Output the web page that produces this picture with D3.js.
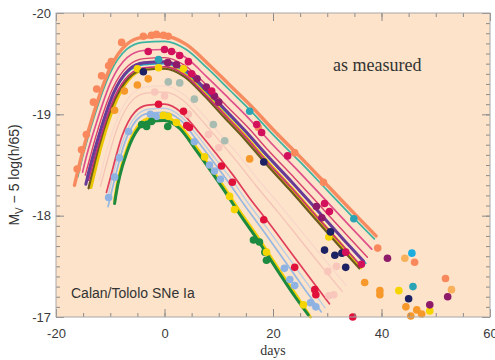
<!DOCTYPE html>
<html><head><meta charset="utf-8">
<script src="https://cdn.jsdelivr.net/npm/d3@7"></script>
<style>body{margin:0;background:#fff}svg{display:block}</style>
</head><body><svg id="c" width="495" height="360"></svg>
<script>
// ---------- data ----------
const xTickValues = [-20, 0, 20, 40, 60];
const yTickValues = [-20, -19, -18, -17];

// fitted light curves: [day, M_V]
const lcOrange  = [[-16.6,-18.30],[-15,-18.65],[-13,-19.02],[-10,-19.46],[-7,-19.69],[-4,-19.76],[0,-19.77],[4,-19.69],[8,-19.50],[12,-19.29],[16,-19.08],[20,-18.85],[25,-18.58],[30,-18.30],[35,-18.02],[39,-17.80]];
const lcTeal    = [[-16,-18.38],[-15,-18.60],[-13,-18.97],[-10,-19.41],[-7,-19.64],[-4,-19.71],[0,-19.72],[4,-19.64],[8,-19.45],[12,-19.24],[16,-19.03],[20,-18.80],[25,-18.53],[30,-18.25],[35,-17.97],[38.7,-17.77]];
const lcPink    = [[-15.1,-18.43],[-14.7,-18.52],[-12.7,-18.89],[-9.8,-19.33],[-6.9,-19.56],[-3.9,-19.63],[0,-19.64],[3.9,-19.56],[7.8,-19.37],[11.8,-19.16],[15.7,-18.95],[19.6,-18.72],[24.5,-18.45],[29.4,-18.17],[34.3,-17.89],[38.2,-17.67]];
const lcRose    = [[-14.6,-18.40],[-14.4,-18.44],[-12.5,-18.81],[-9.6,-19.25],[-6.7,-19.48],[-3.8,-19.55],[0,-19.56],[3.8,-19.48],[7.7,-19.29],[11.5,-19.08],[15.4,-18.87],[19.2,-18.64],[24,-18.37],[28.8,-18.09],[33.6,-17.81],[37.4,-17.59]];
const lcPurple  = [[-14.5,-18.31],[-14.1,-18.40],[-12.2,-18.77],[-9.4,-19.21],[-6.6,-19.44],[-3.8,-19.51],[0,-19.52],[3.8,-19.44],[7.5,-19.25],[11.3,-19.04],[15,-18.83],[18.8,-18.60],[23.5,-18.33],[28.2,-18.05],[32.9,-17.77],[36.7,-17.55]];
const lcCyan    = [[-14.3,-18.38],[-12.4,-18.75],[-9.5,-19.19],[-6.7,-19.42],[-3.8,-19.49],[0,-19.50],[3.8,-19.42],[7.6,-19.23],[11.4,-19.02],[15.2,-18.81],[19,-18.58],[23.8,-18.31],[28.5,-18.03],[33.3,-17.75],[37.1,-17.53]];
const lcMagenta = [[-14,-18.35],[-12.1,-18.72],[-9.3,-19.16],[-6.5,-19.39],[-3.7,-19.46],[0,-19.47],[3.7,-19.39],[7.4,-19.20],[11.2,-18.99],[14.9,-18.78],[18.6,-18.55],[23.3,-18.28],[27.9,-18.00],[32.6,-17.72],[36.3,-17.50]];
const lcGold    = [[-13.6,-18.28],[-11.6,-18.71],[-8.8,-19.15],[-6,-19.38],[-3.3,-19.45],[0.4,-19.46],[4.1,-19.38],[7.8,-19.19],[11.4,-18.98],[15.1,-18.77],[18.8,-18.54],[23.4,-18.27],[28,-17.99],[32.6,-17.71],[36.2,-17.49]];
const lcOlive   = [[-14,-18.27],[-12,-18.70],[-9.2,-19.14],[-6.4,-19.37],[-3.7,-19.44],[0,-19.45],[3.7,-19.37],[7.4,-19.18],[11,-18.97],[14.7,-18.76],[18.4,-18.53],[23,-18.26],[27.6,-17.98],[32.2,-17.70],[35.9,-17.48]];
const lcBlush   = [[-11.8,-18.29],[-10.9,-18.47],[-8.4,-18.91],[-5.9,-19.14],[-3.4,-19.21],[0,-19.22],[3.4,-19.14],[6.7,-18.95],[10.1,-18.74],[13.4,-18.53],[16.8,-18.30],[21,-18.03],[25.2,-17.75],[29.4,-17.47],[32.8,-17.25]];
const lcBlush2  = [[-12,-18.35],[-11.2,-18.53],[-8.6,-18.97],[-6,-19.20],[-3.4,-19.27],[0,-19.28],[3.4,-19.20],[6.9,-19.01],[10.3,-18.80],[13.8,-18.59],[17.2,-18.36],[21.5,-18.09],[25.8,-17.81],[30.1,-17.53],[33.5,-17.31]];
const lcRed     = [[-10.7,-18.23],[-10.1,-18.35],[-7.8,-18.79],[-5.5,-19.02],[-3.1,-19.09],[0,-19.10],[3.1,-19.02],[6.2,-18.83],[9.4,-18.62],[12.5,-18.41],[15.6,-18.18],[19.5,-17.91],[23.4,-17.63],[27.3,-17.35],[30.4,-17.13]];
const lcSky     = [[-10.4,-18.09],[-9.6,-18.27],[-7.4,-18.71],[-5.2,-18.94],[-3.0,-19.01],[0,-19.02],[3.0,-18.94],[5.9,-18.75],[8.9,-18.54],[11.8,-18.33],[14.8,-18.10],[18.5,-17.83],[22.2,-17.55],[25.9,-17.27],[28.9,-17.05]];
const lcPaleBlue= [[-10.3,-18.22],[-9.9,-18.31],[-7.6,-18.75],[-5.3,-18.98],[-3.0,-19.05],[0,-19.06],[3.0,-18.98],[6.1,-18.79],[9.1,-18.58],[12.2,-18.37],[15.2,-18.14],[19,-17.87],[22.8,-17.59],[26.6,-17.31],[29.6,-17.09]];
const lcYellow  = [[-9.2,-18.15],[-9.0,-18.22],[-6.9,-18.66],[-4.8,-18.89],[-2.8,-18.96],[0,-18.97],[2.8,-18.89],[5.5,-18.70],[8.3,-18.49],[11.0,-18.28],[13.8,-18.05],[17.3,-17.78],[20.7,-17.50],[24.2,-17.22],[26.9,-17.00]];
const lcGreen   = [[-9.2,-18.12],[-9.0,-18.19],[-6.9,-18.63],[-4.8,-18.86],[-2.8,-18.93],[0,-18.94],[2.8,-18.86],[5.5,-18.67],[8.3,-18.46],[11.0,-18.25],[13.8,-18.02],[17.3,-17.75],[20.7,-17.47],[24.2,-17.19],[26.5,-17.02]];

// measured points: [day, M_V]
const ptSalmon = [[-16.1,-18.46],[-15.3,-18.65],[-14.4,-18.80],[-13.1,-19.12],[-12.5,-19.25],[-11.6,-19.38],[-10.3,-19.48],[-9.8,-19.52],[-7.9,-19.71],[-3.9,-19.77],[-2.4,-19.78],[-1.5,-19.79],[-0.2,-19.78],[0.7,-19.77],[17.3,-18.87],[24.0,-18.62],[29.3,-18.33],[39.3,-17.68],[46.1,-17.54],[51.8,-17.38]];
const ptCrimson = [[-3.0,-19.62],[0,-19.64],[1.3,-19.62],[2.8,-19.58],[4.4,-19.52],[5.0,-19.40],[8.7,-19.23],[17.0,-18.90],[17.9,-18.82],[22.7,-18.59],[29.5,-18.12],[30.4,-18.04],[33.4,-17.64],[36.3,-17.52]];
const ptPlum = [[0.6,-19.51],[2.2,-19.49],[6.0,-19.35],[7.7,-19.27],[9.2,-19.18],[10.0,-19.12],[28.0,-18.09],[29.0,-17.98],[41.1,-17.58],[48.9,-17.12],[52.2,-17.20]];
const ptTeal = [[-1.1,-19.54],[15.7,-19.03],[34.9,-17.97],[45.8,-17.30]];
const ptCyan = [[45.6,-17.63]];
const ptYellow = [[-5.0,-19.45],[-1.1,-19.46],[3.5,-19.45],[7.4,-18.58],[30.3,-17.79],[-0.2,-18.99],[0.7,-18.98],[2.2,-18.92],[12.0,-18.19],[12.9,-18.06],[18.8,-17.64],[25.6,-17.12],[43.2,-17.26],[48.9,-17.06]];
const ptNavy = [[-3.9,-19.42],[18.3,-18.53],[30.6,-17.84],[29.5,-17.66],[31.4,-17.61],[32.7,-17.63],[33.4,-17.49],[45.0,-17.18]];
const ptOrange = [[-9.2,-19.04],[-7.4,-19.23],[-5.0,-19.29],[-3.0,-19.35],[15.7,-18.56],[36.9,-17.34],[39.7,-17.26],[39.7,-17.22],[44.5,-17.10],[45.4,-17.01],[46.5,-17.07],[47.4,-17.03]];
const ptApricot = [[44.3,-17.58],[52.9,-17.27]];
const ptSage = [[0.7,-19.32],[2.8,-19.31],[5.5,-19.15],[9.0,-18.90],[11.1,-18.74]];
const ptBlush = [[-1.8,-19.22],[0,-19.18],[4.4,-19.0],[8.1,-18.80],[10.0,-18.67],[30.1,-17.45],[31.7,-17.50],[30.3,-17.21],[31.2,-17.22]];
const ptRed = [[-1.1,-19.10],[3.5,-19.03],[4.1,-18.89],[4.6,-18.87],[10.5,-18.49],[12.5,-18.33],[18.3,-17.96],[24.0,-17.49],[27.7,-17.27],[27.9,-17.22],[34.7,-17.0]];
const ptSky = [[-10.3,-18.18],[-9.2,-18.38],[-8.3,-18.57],[-6.6,-18.83],[-2.6,-19.0],[-1.5,-18.98],[5.5,-18.73],[8.3,-18.50],[9.2,-18.44],[10.3,-18.36],[22.1,-17.48],[23.1,-17.37],[24.0,-17.31],[26.9,-17.14],[27.9,-17.10]];
const ptGreen = [[-4.2,-18.90],[-3.3,-18.88],[-2.4,-18.93],[0.6,-18.88],[16.4,-17.76],[17.5,-17.74],[18.5,-17.64],[18.8,-17.56]];

// ---------- styles ----------
const curves = [
  {d: lcBlush2,  c: "#f9d6cc", w: 1.2},
  {d: lcBlush,   c: "#f6c3b8", w: 1.3},
  {d: lcPaleBlue,c: "#bccde6", w: 1.4},
  {d: lcSky,     c: "#97b8e2", w: 1.7},
  {d: lcRed,     c: "#e03e5c", w: 1.7},
  {d: lcYellow,  c: "#f2d000", w: 3},
  {d: lcGreen,   c: "#1d8a3e", w: 3},
  {d: lcGold,    c: "#e9c500", w: 3.6},
  {d: lcOlive,   c: "#6c5a1e", w: 2.2},
  {d: lcMagenta, c: "#c8307e", w: 1.6},
  {d: lcCyan,    c: "#2c9fb8", w: 1.7},
  {d: lcPurple,  c: "#6a3b96", w: 3},
  {d: lcRose,    c: "#d8406e", w: 1.4},
  {d: lcPink,    c: "#e0508a", w: 1.7},
  {d: lcTeal,    c: "#3db3a2", w: 1.7},
  {d: lcOrange,  c: "#f78b5f", w: 3.4}
];
const points = [
  {d: ptBlush, c: "#f9c6bc"}, {d: ptSage, c: "#a9bcb2"}, {d: ptSky, c: "#8eb3e3"},
  {d: ptGreen, c: "#1c8b3f"}, {d: ptOrange, c: "#f7982a"}, {d: ptApricot, c: "#f8b05a"},
  {d: ptSalmon, c: "#f9895c"}, {d: ptYellow, c: "#f5d400"}, {d: ptRed, c: "#e0123c"},
  {d: ptTeal, c: "#2aa4b4"}, {d: ptCyan, c: "#1aaee0"}, {d: ptNavy, c: "#1b2162"},
  {d: ptPlum, c: "#8e1a6a"}, {d: ptCrimson, c: "#d2105c"}
];

// ---------- drawing ----------
const W = 495, H = 360;
const mg = {l: 56, r: 5, t: 13, b: 43};
const x = d3.scaleLinear().domain([-20, 60]).range([mg.l, W - mg.r]);
const y = d3.scaleLinear().domain([-20, -17]).range([mg.t, H - mg.b]);
const svg = d3.select("#c");
const pBottom = y(-17), pTop = y(-20), pLeft = x(-20), pRight = x(60);

svg.append("rect").attr("x", pLeft).attr("y", pTop)
  .attr("width", pRight - pLeft).attr("height", pBottom - pTop)
  .attr("fill", "#fde3c9");

svg.append("defs").append("clipPath").attr("id", "clip")
  .append("rect").attr("x", pLeft).attr("y", pTop - 6)
  .attr("width", pRight - pLeft).attr("height", pBottom - pTop + 12);

const plot = svg.append("g").attr("clip-path", "url(#clip)");
const line = d3.line().x(d => x(d[0])).y(d => y(d[1])).curve(d3.curveMonotoneX);
plot.selectAll("path.lc").data(curves).join("path").attr("class", "lc")
  .attr("d", s => line(s.d)).attr("fill", "none")
  .attr("stroke", s => s.c).attr("stroke-width", s => s.w)
  .attr("stroke-linecap", "round");

points.forEach(g => {
  plot.append("g").selectAll("circle").data(g.d).join("circle")
    .attr("cx", d => x(d[0])).attr("cy", d => y(d[1])).attr("r", 3.8)
    .attr("fill", g.c);
});

// axes with inward ticks
const fmt = d => d.toString();
const minorX = d3.range(-20, 61, 5);
const minorY = d3.range(-200, -169, 1).map(v => v / 10);
const tickCol = "#8a8a8a";
function styleAxis(g) {
  g.select(".domain").remove();
  g.selectAll("line").attr("stroke", tickCol);
  g.selectAll("text").attr("fill", "#3a3a3a")
    .attr("font-family", "Liberation Sans, Arial, sans-serif").attr("font-size", 13);
}
svg.append("g").attr("transform", `translate(0,${pBottom})`)
  .call(d3.axisBottom(x).tickValues(minorX).tickSize(-4).tickFormat("")).call(styleAxis);
svg.append("g").attr("transform", `translate(0,${pBottom})`)
  .call(d3.axisBottom(x).tickValues(xTickValues).tickSize(-8).tickPadding(12).tickFormat(fmt)).call(styleAxis);
svg.append("g").attr("transform", `translate(0,${pTop})`)
  .call(d3.axisTop(x).tickValues(minorX).tickSize(-4).tickFormat("")).call(styleAxis);
svg.append("g").attr("transform", `translate(0,${pTop})`)
  .call(d3.axisTop(x).tickValues(xTickValues).tickSize(-8).tickFormat("")).call(styleAxis);
svg.append("g").attr("transform", `translate(${pLeft},0)`)
  .call(d3.axisLeft(y).tickValues(minorY).tickSize(-4).tickFormat("")).call(styleAxis);
svg.append("g").attr("transform", `translate(${pLeft},0)`)
  .call(d3.axisLeft(y).tickValues(yTickValues).tickSize(-8).tickPadding(5).tickFormat(fmt)).call(styleAxis);
svg.append("g").attr("transform", `translate(${pRight},0)`)
  .call(d3.axisRight(y).tickValues(minorY).tickSize(-4).tickFormat("")).call(styleAxis);
svg.append("g").attr("transform", `translate(${pRight},0)`)
  .call(d3.axisRight(y).tickValues(yTickValues).tickSize(-8).tickFormat("")).call(styleAxis);

svg.append("rect").attr("x", pLeft).attr("y", pTop)
  .attr("width", pRight - pLeft).attr("height", pBottom - pTop)
  .attr("fill", "none").attr("stroke", "#a8a8a8").attr("stroke-width", 1);

// labels
svg.append("text").attr("x", (pLeft + pRight) / 2).attr("y", 355)
  .attr("text-anchor", "middle").attr("font-family", "Liberation Serif, Times New Roman, serif")
  .attr("font-size", 14).attr("fill", "#333").text("days");

const yl = svg.append("text").attr("transform", `translate(19,${(pTop + pBottom) / 2 + 10}) rotate(-90)`)
  .attr("text-anchor", "middle").attr("font-family", "Liberation Sans, Arial, sans-serif")
  .attr("font-size", 14).attr("fill", "#333");
yl.append("tspan").text("M");
yl.append("tspan").attr("font-size", 10).attr("dy", 4).text("V");
yl.append("tspan").attr("dy", -4).text(" \u2212 5 log(h/65)");

svg.append("text").attr("x", 333).attr("y", 71)
  .attr("font-family", "Liberation Serif, Times New Roman, serif")
  .attr("font-size", 18).attr("fill", "#333").text("as measured");

svg.append("text").attr("x", 71).attr("y", 298)
  .attr("font-family", "Liberation Sans, Arial, sans-serif")
  .attr("font-size", 14).attr("fill", "#333").text("Calan/Tololo SNe Ia");
</script>
</body></html>
